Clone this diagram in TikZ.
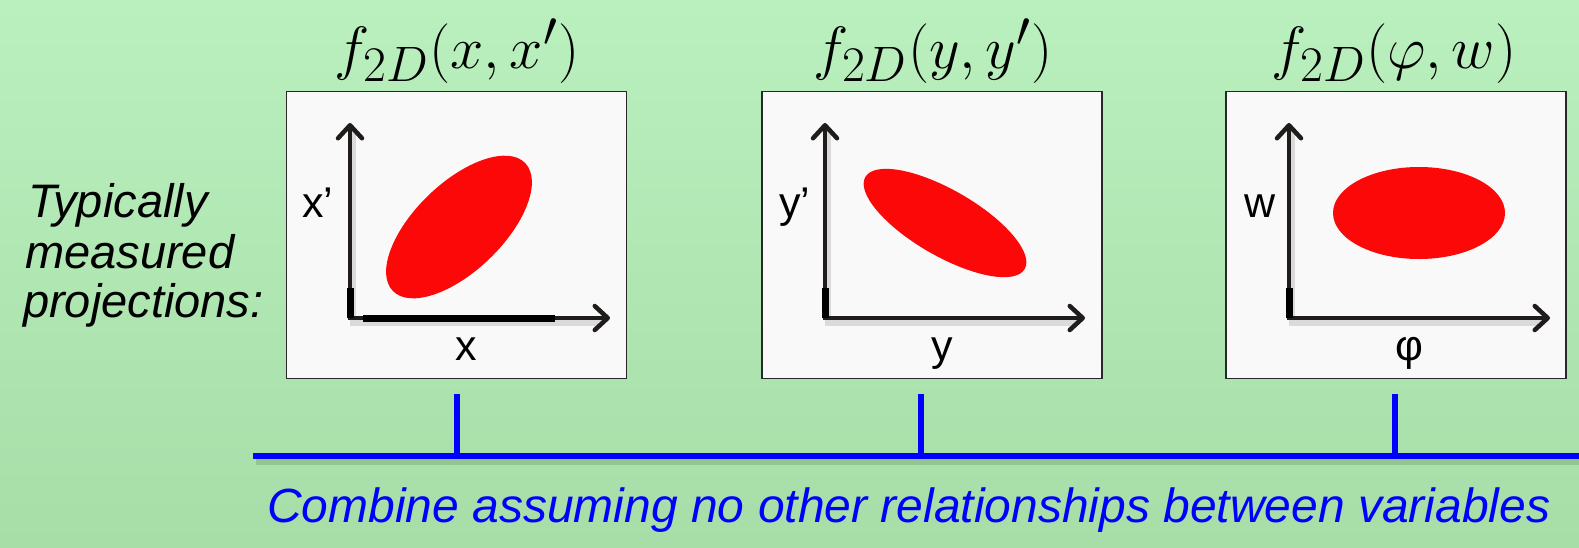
\documentclass[tikz,border=0pt]{standalone}
\usepackage{fontspec}
\setmainfont{Liberation Sans}
\usetikzlibrary{arrows.meta}
\definecolor{bgtop}{RGB}{186,240,190}
\definecolor{bgbot}{RGB}{167,221,167}
\definecolor{panelfill}{RGB}{249,249,249}
\definecolor{panelborder}{RGB}{40,40,40}
\definecolor{axiscol}{RGB}{32,28,28}
\definecolor{blobred}{RGB}{252,8,8}
\definecolor{linkblue}{RGB}{0,0,255}
\newcommand{\bigmath}[1]{\scalebox{2.4}{\fontsize{24.88}{26}\selectfont$#1$}}
\begin{document}
\begin{tikzpicture}[x=1pt,y=-1pt,
  panel/.style={draw=panelborder, line width=1.5pt, fill=panelfill, minimum width=340pt, minimum height=287pt, inner sep=0pt},
  barb/.tip={Straight Barb[length=13pt,width=24pt,round]},
  axis/.style={draw=axiscol, line width=4.5pt, line join=miter, barb-barb},
  axshadow/.style={draw=black, opacity=0.12, line width=6pt},
  thickbit/.style={draw=black, line width=7pt},
  title/.style={anchor=base, inner sep=0pt},
  axlabel/.style={anchor=base, inner sep=0pt, font=\fontsize{43}{45}\selectfont},
  sidetext/.style={anchor=base west, inner sep=0pt, font=\fontsize{47}{50}\selectfont\itshape},
  blob/.style={fill=blobred},
  combine/.style={draw=linkblue, line width=6pt},
  combineshadow/.style={draw=black, opacity=0.13, line width=7pt},
  bluetext/.style={anchor=base west, inner sep=0pt, text=linkblue, font=\fontsize{48}{50}\selectfont\itshape}
]
% background
\shade[top color=bgtop, bottom color=bgbot] (0,0) rectangle (1579,547);
\useasboundingbox (0,0) rectangle (1579,547);

% titles
\node[title] (T1) at (457,68) {\bigmath{f_{2D}(x,x')}};
\node[title] (T2) at (933,68) {\bigmath{f_{2D}(y,y')}};
\node[title] (T3) at (1394,68) {\bigmath{f_{2D}(\varphi,w)}};

% side text
\node[sidetext] (S1) at (28,217) {Typically};
\node[sidetext] (S2) at (25,268) {measured};
\node[sidetext] (S3) at (23,317) {projections:};

% panels
\node[panel] (P1) at (456.5,235) {};
\node[panel] (P2) at (932,235) {};
\node[panel] (P3) at (1396,235) {};

% ---- panel 1
\coordinate (v1) at (350,123); \coordinate (o1) at (350,318); \coordinate (h1) at (610,318);
\draw[axshadow] ([shift={(3,5)}]v1) -- ([shift={(3,5)}]o1) -- ([shift={(-8,5)}]h1);
\fill[blob, rotate around={44:(459,227)}] (459,227) ellipse [x radius=92pt, y radius=44pt];
\draw[axis] (v1) -- (o1) -- (h1);
\draw[thickbit] (363,318) -- (555,318);
\draw[thickbit] (350,288) -- (350,318);
\node[axlabel] (X1) at (318,217) {x’};
\node[axlabel] (X2) at (466,360) {x};

% ---- panel 2
\coordinate (v2) at (825,123); \coordinate (o2) at (825,318); \coordinate (h2) at (1085,318);
\draw[axshadow] ([shift={(3,5)}]v2) -- ([shift={(3,5)}]o2) -- ([shift={(-8,5)}]h2);
\fill[blob, rotate around={-30:(945,223)}] (945,223) ellipse [x radius=92pt, y radius=33pt];
\draw[axis] (v2) -- (o2) -- (h2);
\draw[thickbit] (825,288) -- (825,318);
\node[axlabel] (Y1) at (795,217) {y’};
\node[axlabel] (Y2) at (942,360) {y};

% ---- panel 3
\coordinate (v3) at (1289,123); \coordinate (o3) at (1289,318); \coordinate (h3) at (1550,318);
\draw[axshadow] ([shift={(3,5)}]v3) -- ([shift={(3,5)}]o3) -- ([shift={(-8,5)}]h3);
\fill[blob] (1419,213) ellipse [x radius=86pt, y radius=46pt];
\draw[axis] (v3) -- (o3) -- (h3);
\draw[thickbit] (1289,288) -- (1289,318);
\node[axlabel] (W1) at (1260,217) {w};
\node[axlabel] (W2) at (1409,360) {φ};

% ---- combining line
\coordinate (L0) at (253,456); \coordinate (L1) at (1579,456);
\coordinate (t1) at (457,394); \coordinate (t2) at (921,394); \coordinate (t3) at (1395,394);
\draw[combineshadow] ([shift={(3,5)}]L0) -- ([shift={(3,5)}]L1);
\draw[combine] (L0) -- (L1);
\draw[combine, line width=5.5pt] (t1) -- (t1 |- L0);
\draw[combine, line width=5.5pt] (t2) -- (t2 |- L0);
\draw[combine, line width=5.5pt] (t3) -- (t3 |- L0);

\node[bluetext] (C) at (267,522) {Combine assuming no other relationships between variables};
\end{tikzpicture}
\end{document}
